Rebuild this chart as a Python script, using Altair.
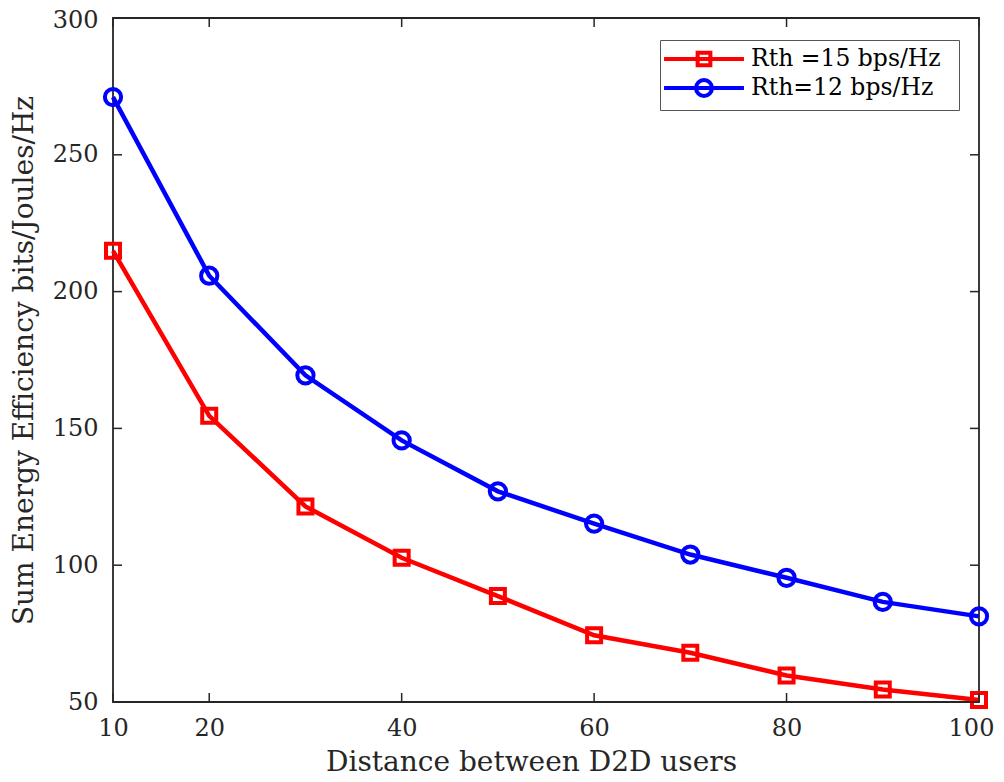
import altair as alt
import pandas as pd

distance = [10, 20, 30, 40, 50, 60, 70, 80, 90, 100]
ee_rth15 = [214.9, 154.6, 121.5, 102.7, 88.7, 74.4, 68.0, 59.7, 54.6, 50.7]
ee_rth12 = [271.1, 205.8, 169.4, 145.6, 127.0, 115.2, 103.9, 95.4, 86.6, 81.3]
series_names = ["Rth =15 bps/Hz", "Rth=12 bps/Hz"]
series_colors = ["#ff0000", "#0000ff"]
series_shapes = ["square", "circle"]
series_sizes = [196, 265]
x_ticks = [10, 20, 40, 60, 80, 100]
y_ticks = [50, 100, 150, 200, 250, 300]

W, H = 866, 684
FONT = "DejaVu Serif"
INK = "#262626"

rows = []
for name, vals in zip(series_names, [ee_rth15, ee_rth12]):
    for d, v in zip(distance, vals):
        rows.append({"distance": d, "ee": v, "series": name})
df = pd.DataFrame(rows)

xscale = alt.Scale(domain=[10, 100], nice=False, zero=False)
yscale = alt.Scale(domain=[50, 300], nice=False, zero=False)

def cscale():
    return alt.Scale(domain=series_names, range=series_colors)

# legend glyphs: line segment with marker (square / circle); unit = 12 px
sq_path = "M-3.33,0H3.33M-0.53,-0.53H0.53V0.53H-0.53Z"
ci_path = "M-3.33,0H3.33M0.667,0A0.667,0.667 0 1,1 -0.667,0A0.667,0.667 0 1,1 0.667,0Z"

legend = alt.Legend(
    title=".",
    titleOrient="right",
    titleColor="white",
    titleFontSize=10,
    titlePadding=10,
    orient="none",
    legendX=547,
    legendY=22,
    labelFont=FONT,
    labelFontSize=23.5,
    labelColor="black",
    labelLimit=400,
    symbolSize=576,
    symbolStrokeWidth=4,
    symbolOpacity=1,
    symbolOffset=25,
    labelOffset=33,
    padding=5,
    rowPadding=-7,
    strokeColor="#555555",
    fillColor="white",
)

x_axis = alt.Axis(
    values=x_ticks, ticks=False, tickSize=0, domain=False, grid=False,
    labelFont=FONT, labelFontSize=24, labelColor=INK, labelPadding=14,
    labelFlush=False, labelOverlap=False,
    labelOffset=alt.condition("datum.value === 100", alt.value(-8), alt.value(0)),
    title="Distance between D2D users", titleFont=FONT, titleFontSize=28,
    titleFontWeight="normal", titleColor=INK, titlePadding=8, titleX=418,
)
y_axis = alt.Axis(
    values=y_ticks, ticks=False, tickSize=0, domain=False, grid=False,
    labelFont=FONT, labelFontSize=24, labelColor=INK, labelPadding=15,
    labelFlush=False, labelOverlap=False,
    labelOffset=alt.condition("datum.value === 300", alt.value(2), alt.value(0)),
    title="Sum Energy Efficiency bits/Joules/Hz", titleFont=FONT, titleFontSize=28,
    titleFontWeight="normal", titleColor=INK, titlePadding=14,
)

base = alt.Chart(df)

lines = base.mark_line(strokeWidth=4.5).encode(
    x=alt.X("distance:Q", scale=xscale, axis=x_axis),
    y=alt.Y("ee:Q", scale=yscale, axis=y_axis),
    color=alt.Color("series:N", scale=cscale(), legend=None),
    detail="series:N",
)

points = base.mark_point(filled=False, strokeWidth=4, opacity=1).encode(
    x=alt.X("distance:Q", scale=xscale, axis=x_axis),
    y=alt.Y("ee:Q", scale=yscale, axis=y_axis),
    color=alt.Color("series:N", scale=cscale(), legend=None),
    shape=alt.Shape("series:N", scale=alt.Scale(domain=series_names, range=series_shapes), legend=None),
    size=alt.Size("series:N", scale=alt.Scale(domain=series_names, range=series_sizes), legend=None),
)

legend_layer = base.transform_filter("false").mark_point(filled=False, strokeWidth=4, opacity=1).encode(
    x=alt.X("distance:Q", scale=xscale, axis=x_axis),
    y=alt.Y("ee:Q", scale=yscale, axis=y_axis),
    color=alt.Color("series:N", scale=cscale(), legend=legend),
    shape=alt.Shape("series:N", scale=alt.Scale(domain=series_names, range=[sq_path, ci_path]), legend=legend),
)

ydf = pd.DataFrame({"v": y_ticks})
xdf = pd.DataFrame({"v": x_ticks})

ytick_l = alt.Chart(ydf).mark_rule(color=INK, strokeWidth=1.5).encode(
    y=alt.Y("v:Q", scale=yscale, axis=y_axis), x=alt.value(0), x2=alt.value(9))
ytick_r = alt.Chart(ydf).mark_rule(color=INK, strokeWidth=1.5).encode(
    y=alt.Y("v:Q", scale=yscale, axis=y_axis), x=alt.value(W - 9), x2=alt.value(W))
xtick_b = alt.Chart(xdf).mark_rule(color=INK, strokeWidth=1.5).encode(
    x=alt.X("v:Q", scale=xscale, axis=x_axis), y=alt.value(H - 9), y2=alt.value(H))
xtick_t = alt.Chart(xdf).mark_rule(color=INK, strokeWidth=1.5).encode(
    x=alt.X("v:Q", scale=xscale, axis=x_axis), y=alt.value(0), y2=alt.value(9))

chart = alt.layer(lines, points, legend_layer, ytick_l, ytick_r, xtick_b, xtick_t).resolve_scale(
    color="independent", shape="independent", size="independent"
).properties(
    width=W, height=H,
    autosize=alt.AutoSizeParams(type="none"),
    padding={"left": 105, "top": 10, "right": 17, "bottom": 72},
    background="white",
).configure_view(stroke=INK, strokeWidth=1.8)

chart.save("out.html", embed_options={"renderer": "svg", "actions": False})
